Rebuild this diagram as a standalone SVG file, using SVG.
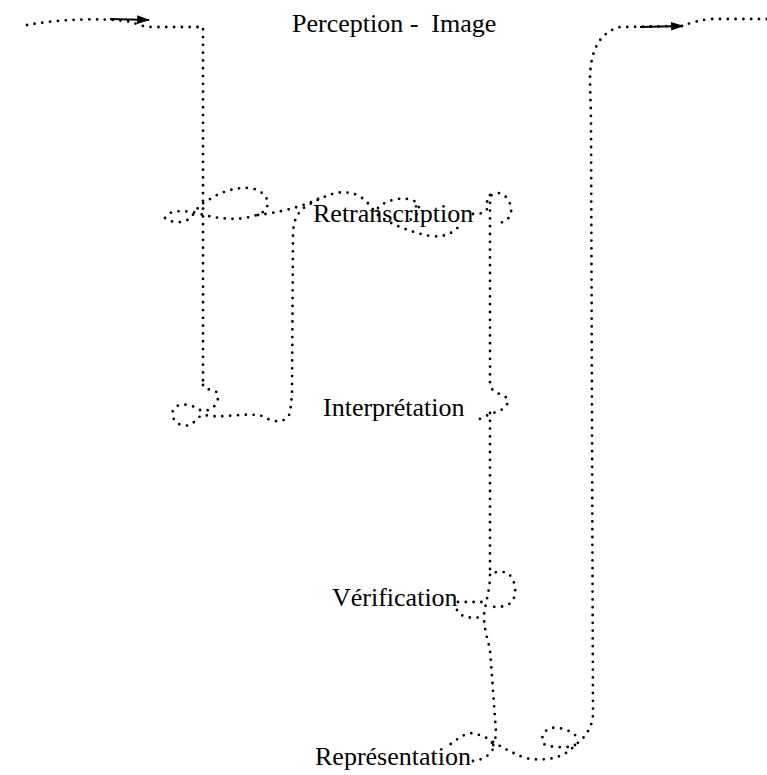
<svg xmlns="http://www.w3.org/2000/svg" width="767" height="775" viewBox="0 0 767 775">
<defs>
<style>
.dot{fill:none;stroke:#000;stroke-width:2.8;stroke-linecap:round;stroke-dasharray:0 7.8;}
.arr{fill:none;stroke:#000;stroke-width:2.2;}
.lbl{font-family:"Liberation Serif","Times New Roman",serif;font-size:26px;fill:#000;white-space:pre;}
</style>
<marker id="ah" viewBox="0 0 12 8" refX="11" refY="4" markerWidth="13" markerHeight="9" markerUnits="userSpaceOnUse" orient="auto">
<path d="M0,0 L12,4 L0,8 Z" fill="#000"/>
</marker>
</defs>
<rect width="767" height="775" fill="#fff"/>
<g id="connectors">
<path class="dot" d="M27,25 C60,19 100,18 125,21 C135,22 140,27 152,27 L203,27 L203,385"/>
<path class="arr" d="M110,19 L149,20" marker-end="url(#ah)"/>
<path class="dot" d="M203,385 C205,393 218,386 218,397 C218,407 207,413 200,410 C193,405 178,401 173,410 C170,420 180,428 190,425 C196,422 198,415 205,415 C220,419 245,412 262,416 C272,422 285,425 290,413 L292,395 L293,235 C293,220 298,210 310,204 C325,196 340,188 357,195 C368,200 372,210 378,215 C390,224 410,232 430,236 C445,238 455,232 460,225"/>
<path class="dot" d="M378,208 C385,200 405,195 416,202 C422,207 418,216 410,220"/>
<path class="dot" d="M165,218 C172,224 185,223 190,218 C196,212 198,205 207,201 C220,192 235,187 250,188 C262,190 270,198 267,207 C264,214 255,216 245,218 C230,220 215,218 200,214 C190,211 178,210 170,213"/>
<path class="dot" d="M258,215 C275,213 300,208 320,198"/>
<path class="dot" d="M473,214 C478,215 483,213 487,210 C485,200 490,193 500,193 C508,196 512,205 511,213 C509,220 503,224 497,222"/>
<path class="dot" d="M490,195 L490,385 C492,393 500,393 507,398 C510,405 503,410 496,412 C490,414 483,417 478,420"/>
<path class="dot" d="M490,413 L490,570 C492,575 500,570 508,573 C515,580 518,592 512,602 C506,607 497,608 490,606"/>
<path class="dot" d="M490,575 C490,590 486,600 484,615 C484,630 488,640 490,650 L493,690 L496,732 C496,738 494,742 493,746"/>
<path class="dot" d="M458,602 L483,602"/>
<path class="dot" d="M457,610 C460,617 470,619 483,617"/>
<path class="dot" d="M473,761 C482,760 490,756 494,747 C492,740 485,735 470,733 C462,735 453,742 447,747"/>
<path class="dot" d="M493,742 C500,746 510,752 525,758 C545,762 565,758 575,745 C585,738 592,728 593,715 L591,120 L590,80 C590,50 600,32 620,27 L682,26 C690,23 700,20 712,19 L767,19"/>
<path class="arr" d="M640,27 L683,26" marker-end="url(#ah)"/>
<path class="dot" d="M575,745 C570,748 555,748 545,745 C540,740 542,732 550,728 C558,727 570,729 577,737"/>
</g>
<g id="perception"><text class="lbl" x="292" y="32">Perception -  Image</text></g>
<g id="retranscription"><text class="lbl" x="313" y="222">Retranscription</text></g>
<g id="interpretation"><text class="lbl" x="323" y="416">Interprétation</text></g>
<g id="verification"><text class="lbl" x="332" y="606">Vérification</text></g>
<g id="representation"><text class="lbl" x="315" y="765">Représentation</text></g>
</svg>
